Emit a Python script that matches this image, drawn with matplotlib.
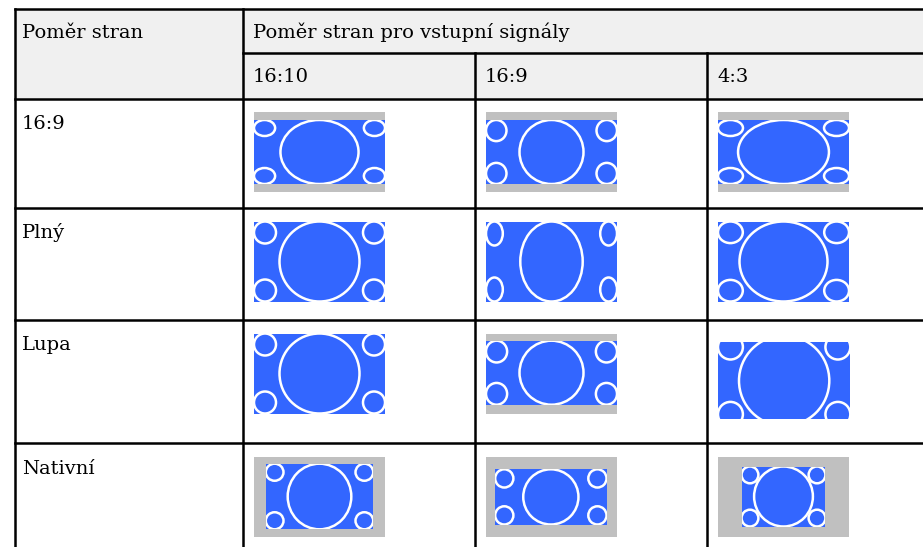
import matplotlib
matplotlib.use("Agg")
import matplotlib.pyplot as plt
from matplotlib.patches import Rectangle, Ellipse

# table text
header_left = "Poměr stran"
header_top = "Poměr stran pro vstupní signály"
signals = ["16:10", "16:9", "4:3"]
modes = ["16:9", "Plný", "Lupa", "Nativní"]

# per mode (row) and signal (column): is the grey screen visible
screen_visible = [[True, True, True],
                  [False, False, False],
                  [False, True, False],
                  [True, True, True]]

# picture area inside the screen (left, top, right, bottom as screen fractions)
picture = [[(0, 0.1, 1, 0.9), (0, 0.1, 1, 0.9), (0, 0.1, 1, 0.9)],
           [(0, 0, 1, 1), (0, 0, 1, 1), (0, 0, 1, 1)],
           [(0, 0, 1, 1), (0, 0.09, 1, 0.89), (0, 0.11, 1.01, 1.07)],
           [(0.09, 0.09, 0.91, 0.91), (0.07, 0.16, 0.92, 0.85), (0.18, 0.125, 0.82, 0.875)]]

# zoom of the image content relative to the picture height (lupa crops it)
zoom = [[1.0, 1.0, 1.0],
        [1.0, 1.0, 1.0],
        [1.0, 1.0, 1.2],
        [1.0, 1.0, 1.0]]

# big centre ellipse (width, height) in units of content height
big = [[(1.22, 1.0), (1.0, 1.0), (1.42, 1.0)],
       [(1.0, 1.0), (0.78, 1.0), (1.1, 1.0)],
       [(1.0, 1.0), (1.0, 1.0), (0.98, 0.98)],
       [(0.97, 1.0), (1.0, 1.0), (0.98, 1.0)]]

# corner ellipses (width, height) in units of content height
corner = [[(0.33, 0.25), (0.32, 0.33), (0.39, 0.25)],
          [(0.275, 0.275), (0.21, 0.30), (0.31, 0.27)],
          [(0.275, 0.275), (0.33, 0.34), (0.27, 0.27)],
          [(0.27, 0.26), (0.33, 0.33), (0.28, 0.28)]]

W, H = 923, 547
fig = plt.figure(figsize=(W / 100, H / 100), dpi=100)
ax = fig.add_axes([0, 0, 1, 1])
ax.set_xlim(0, W)
ax.set_ylim(H, 0)
ax.axis("off")

blue = "#3366ff"
grey = "#c0c0c0"
head_bg = "#f0f0f0"
lw = 1.8
font = dict(family="DejaVu Serif", fontsize=14, color="black")

# table grid (pixels)
x_left, x_first, x_right = 15, 243, 960
col_x = [243, 475, 707]
y_top, y_head1, y_head2 = 9, 53, 98.5
row_y = [98.5, 208, 320, 443, 560]

ax.add_patch(Rectangle((x_left, y_top), x_right - x_left, y_head2 - y_top,
                       facecolor=head_bg, edgecolor="none", zorder=0))

line = dict(color="black", lw=lw, solid_capstyle="projecting", zorder=5)
ax.plot([x_left, x_right], [y_top, y_top], **line)
ax.plot([x_first, x_right], [y_head1, y_head1], **line)
for y in row_y[:-1]:
    ax.plot([x_left, x_right], [y, y], **line)
ax.plot([x_left, x_left], [y_top, H + 10], **line)
ax.plot([x_first, x_first], [y_top, H + 10], **line)
for x in col_x[1:]:
    ax.plot([x, x], [y_head1, H + 10], **line)

# header texts
base = 29.5
ax.text(x_left + 7, y_top + base, header_left, va="baseline", **font)
ax.text(x_first + 10, y_top + base, header_top, va="baseline", **font)
for x, s in zip(col_x, signals):
    ax.text(x + 10, y_head1 + base, s, va="baseline", **font)
for r, name in enumerate(modes):
    ax.text(x_left + 7, row_y[r] + base + 1, name, va="baseline", **font)

# icons
scr_w, scr_h = 131, 80
for r in range(len(modes)):
    for c in range(len(signals)):
        sx = col_x[c] + 11
        sy = row_y[r] + 13.5
        if screen_visible[r][c]:
            ax.add_patch(Rectangle((sx, sy), scr_w, scr_h, facecolor=grey,
                                   edgecolor="none", zorder=1))
        l, t, rr, b = picture[r][c]
        px0, px1 = sx + l * scr_w, sx + rr * scr_w
        py0, py1 = sy + t * scr_h, sy + b * scr_h
        pic = Rectangle((px0, py0), px1 - px0, py1 - py0, facecolor=blue,
                        edgecolor="none", zorder=2)
        ax.add_patch(pic)

        ch = (py1 - py0) * zoom[r][c]
        cx0, cx1 = px0, px1
        cy_mid = (py0 + py1) / 2
        cy0, cy1 = cy_mid - ch / 2, cy_mid + ch / 2

        shapes = []
        bw, bh = big[r][c]
        shapes.append(Ellipse(((cx0 + cx1) / 2, cy_mid), bw * ch, bh * ch))
        kw, kh = corner[r][c]
        kw, kh = kw * ch, kh * ch
        for ex in (cx0 + kw / 2, cx1 - kw / 2):
            for ey in (cy0 + kh / 2, cy1 - kh / 2):
                shapes.append(Ellipse((ex, ey), kw, kh))
        for e in shapes:
            e.set_facecolor("none")
            e.set_edgecolor("white")
            e.set_linewidth(1.8)
            e.set_zorder(3)
            ax.add_patch(e)
            e.set_clip_path(pic)

fig.savefig("out.png", dpi=100)
